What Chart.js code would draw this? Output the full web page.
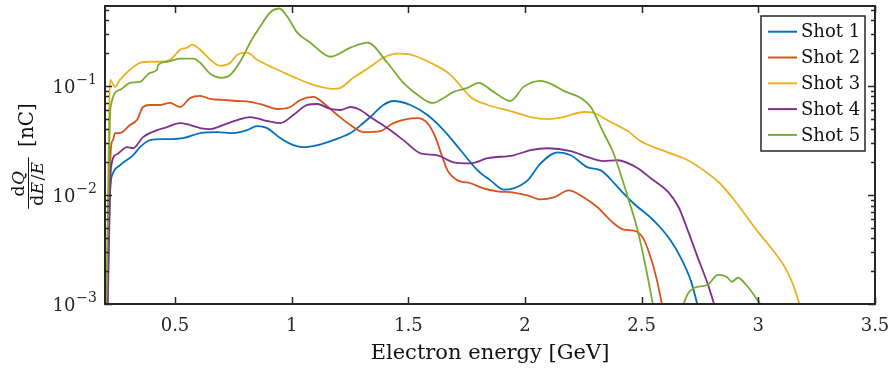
<!DOCTYPE html>
<html>
<head>
<meta charset="utf-8">
<script src="https://cdn.jsdelivr.net/npm/chart.js@4/dist/chart.umd.min.js"></script>
<style>
  html, body { margin: 0; padding: 0; background: #fff; }
  canvas { display: block; }
</style>
</head>
<body>
<canvas id="spectra" width="889" height="372"></canvas>
<script>
// Electron spectra, five shots: [energy (GeV), dQ/(dE/E) (nC)]
const shotLabels = ['Shot 1', 'Shot 2', 'Shot 3', 'Shot 4', 'Shot 5'];
const shotColors = ['#0072BD', '#D95319', '#EDB120', '#7E2F8E', '#77AC30'];
const energyTicks = [0.5, 1, 1.5, 2, 2.5, 3, 3.5];
const chargeDecades = [1e-3, 1e-2, 1e-1];

const shot1 = [[0.209,0.0008],[0.222,0.011],[0.234,0.0158],[0.264,0.0187],[0.320,0.0231],[0.350,0.0274],[0.393,0.0318],[0.466,0.0325],[0.535,0.0332],[0.608,0.0369],[0.681,0.0377],[0.749,0.0369],[0.809,0.0393],[0.852,0.0428],[0.895,0.0410],[0.951,0.0332],[1.007,0.0286],[1.050,0.0274],[1.110,0.0286],[1.179,0.0318],[1.252,0.0369],[1.307,0.0456],[1.337,0.0518],[1.393,0.0668],[1.436,0.0727],[1.509,0.0668],[1.582,0.0540],[1.651,0.0393],[1.724,0.0257],[1.797,0.0168],[1.852,0.0136],[1.908,0.0112],[1.951,0.0115],[2.011,0.0136],[2.067,0.0195],[2.140,0.0246],[2.196,0.0231],[2.269,0.0179],[2.325,0.0168],[2.380,0.0130],[2.410,0.0110],[2.466,0.00835],[2.552,0.00582],[2.625,0.00381],[2.668,0.00265],[2.711,0.00163],[2.744,0.0009]];

const shot2 = [[0.207,0.0008],[0.226,0.028],[0.234,0.0318],[0.243,0.0369],[0.264,0.0369],[0.307,0.0437],[0.337,0.0486],[0.363,0.0640],[0.393,0.0668],[0.436,0.0668],[0.479,0.0697],[0.522,0.0640],[0.565,0.0775],[0.608,0.0809],[0.651,0.0759],[0.706,0.0743],[0.767,0.0727],[0.822,0.0712],[0.878,0.0668],[0.938,0.0614],[0.994,0.0640],[1.037,0.0743],[1.093,0.0792],[1.136,0.0697],[1.196,0.0540],[1.252,0.0437],[1.307,0.0377],[1.380,0.0385],[1.436,0.0456],[1.539,0.0507],[1.582,0.0456],[1.616,0.0339],[1.646,0.0222],[1.668,0.0168],[1.711,0.0136],[1.767,0.0128],[1.822,0.0115],[1.882,0.0108],[1.951,0.0105],[2.011,0.00989],[2.067,0.00909],[2.123,0.00948],[2.187,0.0110],[2.252,0.00948],[2.312,0.00767],[2.367,0.00582],[2.423,0.00481],[2.466,0.00471],[2.505,0.00406],[2.539,0.00265],[2.569,0.00153],[2.591,0.0009]];

const shot3 = [[0.207,0.0008],[0.222,0.1136],[0.243,0.0979],[0.264,0.1136],[0.307,0.1404],[0.350,0.1629],[0.393,0.1664],[0.428,0.1664],[0.479,0.1736],[0.522,0.2147],[0.552,0.2240],[0.573,0.2386],[0.608,0.2147],[0.651,0.1736],[0.694,0.1528],[0.737,0.1629],[0.767,0.1931],[0.809,0.2014],[0.852,0.1736],[0.921,0.1465],[1.007,0.1210],[1.093,0.1021],[1.179,0.0938],[1.209,0.0959],[1.264,0.1185],[1.337,0.1496],[1.393,0.1812],[1.453,0.1972],[1.509,0.1931],[1.595,0.1629],[1.681,0.1263],[1.767,0.0792],[1.840,0.0668],[1.938,0.0588],[2.024,0.0518],[2.097,0.0496],[2.166,0.0518],[2.252,0.0576],[2.294,0.0564],[2.367,0.0466],[2.440,0.0385],[2.496,0.0311],[2.612,0.0246],[2.698,0.0208],[2.766,0.0168],[2.835,0.0128],[2.908,0.00835],[2.994,0.00471],[3.054,0.00328],[3.110,0.00224],[3.148,0.00153],[3.183,0.0009]];

const shot4 = [[0.211,0.0008],[0.226,0.018],[0.251,0.0236],[0.294,0.0274],[0.320,0.0268],[0.363,0.0339],[0.423,0.0393],[0.466,0.0419],[0.522,0.0456],[0.565,0.0437],[0.608,0.0410],[0.651,0.0402],[0.706,0.0437],[0.767,0.0486],[0.822,0.0518],[0.878,0.0486],[0.951,0.0456],[1.007,0.0540],[1.067,0.0668],[1.110,0.0682],[1.166,0.0614],[1.209,0.0601],[1.252,0.0640],[1.294,0.0601],[1.337,0.0518],[1.410,0.0410],[1.479,0.0318],[1.552,0.0241],[1.625,0.0231],[1.694,0.0199],[1.767,0.0195],[1.840,0.0217],[1.951,0.0231],[2.024,0.0257],[2.097,0.0268],[2.196,0.0252],[2.269,0.0222],[2.337,0.0204],[2.397,0.0208],[2.483,0.0176],[2.539,0.0142],[2.616,0.0105],[2.659,0.00767],[2.698,0.00471],[2.741,0.00265],[2.783,0.00153],[2.817,0.0009]];

const shot5 = [[0.205,0.0008],[0.224,0.064],[0.264,0.0919],[0.307,0.1066],[0.350,0.1089],[0.393,0.1318],[0.423,0.1404],[0.428,0.1561],[0.466,0.1664],[0.522,0.1774],[0.578,0.1774],[0.608,0.1629],[0.651,0.1290],[0.702,0.1185],[0.737,0.1263],[0.779,0.1664],[0.822,0.2490],[0.865,0.3498],[0.908,0.4709],[0.947,0.512],[0.981,0.4324],[1.024,0.3080],[1.080,0.2490],[1.166,0.1850],[1.252,0.2240],[1.325,0.2490],[1.410,0.1629],[1.479,0.1066],[1.552,0.0792],[1.603,0.0697],[1.651,0.0775],[1.694,0.0881],[1.754,0.0959],[1.801,0.1066],[1.865,0.0881],[1.938,0.0727],[1.994,0.0979],[2.067,0.1112],[2.119,0.1021],[2.166,0.0899],[2.239,0.0775],[2.282,0.0640],[2.337,0.0369],[2.378,0.0245],[2.445,0.00889],[2.483,0.00471],[2.518,0.00215],[2.552,0.0009],[2.61,null],[2.672,0.0009],[2.698,0.00124],[2.724,0.00140],[2.783,0.00150],[2.827,0.00185],[2.865,0.00177],[2.887,0.00160],[2.912,0.00174],[2.951,0.00147],[2.985,0.00118],[3.024,0.0009]];

const shots = [shot1, shot2, shot3, shot4, shot5];

const AXIS_COLOR = '#262626';
const SERIF = '"DejaVu Serif", "Liberation Serif", serif';

// Box, inward ticks on all four sides, and log-decade labels
const axesBox = {
  id: 'axesBox',
  afterDatasetsDraw(chart) {
    const { ctx, chartArea: a, scales: { x, y } } = chart;
    ctx.save();
    ctx.strokeStyle = AXIS_COLOR;
    ctx.lineWidth = 1.5;
    ctx.beginPath();
    energyTicks.forEach(v => {
      const px = Math.round(x.getPixelForValue(v)) + 0.5;
      ctx.moveTo(px, a.bottom); ctx.lineTo(px, a.bottom - 7);
      ctx.moveTo(px, a.top); ctx.lineTo(px, a.top + 7);
    });
    chargeDecades.forEach(d => {
      for (let m = 1; m <= 9; m++) {
        const v = d * m;
        if (v > y.max) break;
        const len = m === 1 ? 7 : 4;
        const py = Math.round(y.getPixelForValue(v)) + 0.5;
        ctx.moveTo(a.left, py); ctx.lineTo(a.left + len, py);
        ctx.moveTo(a.right, py); ctx.lineTo(a.right - len, py);
      }
    });
    ctx.stroke();
    ctx.lineWidth = 2;
    ctx.strokeRect(a.left, a.top, a.right - a.left, a.bottom - a.top);

    // y tick labels as 10 with a raised exponent
    ctx.fillStyle = AXIS_COLOR;
    ctx.textAlign = 'left';
    ctx.textBaseline = 'alphabetic';
    y.ticks.forEach(t => {
      const py = y.getPixelForValue(t.value);
      const exp = '\u2212' + Math.abs(Math.round(Math.log10(t.value)));
      ctx.font = '18px ' + SERIF;
      const wBase = ctx.measureText('10').width;
      ctx.font = '14px ' + SERIF;
      const wExp = ctx.measureText(exp).width;
      const x0 = a.left - 8 - wBase - wExp - 1;
      ctx.font = '18px ' + SERIF;
      ctx.fillText('10', x0, py + 7);
      ctx.font = '14px ' + SERIF;
      ctx.fillText(exp, x0 + wBase + 1, py - 2);
    });
    ctx.restore();
  },
  afterDraw(chart) {
    const { ctx, chartArea: a } = chart;
    ctx.save();

    // Legend box in the upper right corner
    const w = 104, h = 135, rowH = 25.8;
    const lx = a.right - 10 - w, ly = a.top + 10;
    ctx.fillStyle = '#fff';
    ctx.fillRect(lx, ly, w, h);
    ctx.strokeStyle = AXIS_COLOR;
    ctx.lineWidth = 1.5;
    ctx.strokeRect(lx, ly, w, h);
    ctx.font = '18px ' + SERIF;
    ctx.textBaseline = 'middle';
    ctx.textAlign = 'left';
    chart.data.datasets.forEach((ds, i) => {
      const cy = ly + 15.7 + i * rowH;
      ctx.strokeStyle = ds.borderColor;
      ctx.lineWidth = 2;
      ctx.beginPath();
      ctx.moveTo(lx + 7, cy); ctx.lineTo(lx + 36, cy);
      ctx.stroke();
      ctx.fillStyle = '#111';
      ctx.fillText(ds.label, lx + 40, cy + 1);
    });

    // Rotated y-axis title: dQ / (dE/E) [nC]
    ctx.translate(28, 155);
    ctx.rotate(-Math.PI / 2);
    ctx.fillStyle = '#111';
    ctx.textBaseline = 'middle';
    ctx.textAlign = 'center';
    ctx.font = '20px ' + SERIF;
    ctx.fillText('[nC]', 30, 0);

    const runs = (parts, size) => parts.map(([txt, italic]) => {
      ctx.font = (italic ? 'italic ' : '') + size + 'px ' + SERIF;
      return { txt, font: ctx.font, w: ctx.measureText(txt).width + (italic ? 1.5 : 0.5) };
    });
    const drawRuns = (items, cx, baseY) => {
      const total = items.reduce((s, r) => s + r.w, 0);
      let x = cx - total / 2;
      ctx.textAlign = 'left';
      ctx.textBaseline = 'alphabetic';
      items.forEach(r => { ctx.font = r.font; ctx.fillText(r.txt, x, baseY); x += r.w; });
      return total;
    };
    const fc = -28;
    const num = runs([['d', false], ['Q', true]], 17);
    const den = runs([['d', false], ['E', true], ['/', false], ['E', true]], 17);
    drawRuns(num, fc, -4);
    const wDen = drawRuns(den, fc, 15);
    ctx.strokeStyle = '#111';
    ctx.lineWidth = 1;
    ctx.beginPath();
    ctx.moveTo(fc - wDen / 2 - 3, 0.5);
    ctx.lineTo(fc + wDen / 2 + 3, 0.5);
    ctx.stroke();
    ctx.restore();
  }
};

new Chart(document.getElementById('spectra'), {
  type: 'line',
  data: {
    datasets: shots.map((pts, i) => ({
      label: shotLabels[i],
      data: pts.map(([e, q]) => ({ x: e, y: q })),
      borderColor: shotColors[i],
      backgroundColor: shotColors[i],
      borderWidth: 1.8,
      pointRadius: 0,
      fill: false,
      spanGaps: false,
      cubicInterpolationMode: 'monotone',
      order: shots.length - i
    }))
  },
  options: {
    responsive: false,
    animation: false,
    devicePixelRatio: 1,
    layout: { padding: { top: 6, right: 14, left: 0, bottom: 0 } },
    plugins: { legend: { display: false }, tooltip: { enabled: false } },
    scales: {
      x: {
        type: 'linear',
        min: 0.2,
        max: 3.5,
        afterBuildTicks: s => { s.ticks = energyTicks.map(v => ({ value: v })); },
        afterFit: s => { s.height = 68; s.paddingLeft = 0; s.paddingRight = 0; },
        grid: { display: false, drawTicks: false },
        border: { display: false },
        ticks: {
          padding: 12,
          color: AXIS_COLOR,
          font: { family: SERIF, size: 18 },
          maxRotation: 0,
          autoSkip: false,
          callback: v => String(v)
        },
        title: {
          display: true,
          text: 'Electron energy [GeV]',
          color: '#111',
          font: { family: SERIF, size: 21 },
          padding: { top: 0, bottom: 6 }
        }
      },
      y: {
        type: 'logarithmic',
        min: 0.001,
        max: 0.54,
        afterBuildTicks: s => { s.ticks = chargeDecades.map(v => ({ value: v })); },
        afterFit: s => { s.width = 105; s.paddingTop = 0; s.paddingBottom = 0; },
        grid: { display: false, drawTicks: false },
        border: { display: false },
        ticks: { display: false }
      }
    }
  },
  plugins: [axesBox]
});
</script>
</body>
</html>
